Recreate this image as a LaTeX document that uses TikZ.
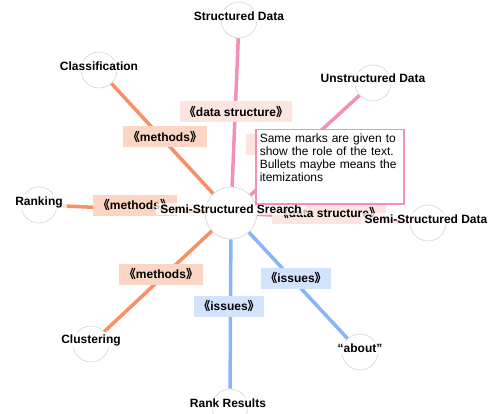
\documentclass[tikz,border=0pt]{standalone}
\usepackage{fontspec}
\setmainfont{Liberation Sans}
\newfontfamily\cjk{Noto Sans CJK SC}
\definecolor{linkpink}{RGB}{246,142,186}
\definecolor{linkorange}{RGB}{250,143,102}
\definecolor{linkblue}{RGB}{138,180,248}
\definecolor{tagpink}{RGB}{252,228,224}
\definecolor{tagorange}{RGB}{251,214,197}
\definecolor{tagblue}{RGB}{210,227,252}
\definecolor{notepink}{RGB}{244,143,183}
\definecolor{ringgray}{RGB}{212,212,212}
\newcommand{\obr}{{\cjk 《}}
\newcommand{\cbr}{{\cjk 》}}

\begin{document}
\begin{tikzpicture}[x=1pt, y=-1pt,
  every node/.style={font=\fontsize{12}{13}\selectfont},
  ring/.style={circle, draw=ringgray, line width=0.6pt, minimum size=36pt, inner sep=0pt},
  hubring/.style={ring, minimum size=52pt},
  title/.style={font=\fontsize{12}{13}\selectfont\bfseries, fill=white, fill opacity=0.72, text opacity=1, inner xsep=4pt, inner ysep=2pt},
  tag/.style={font=\fontsize{12}{13}\selectfont\bfseries, minimum height=21pt, inner sep=0pt},
  link/.style={line width=3.5pt}]
\useasboundingbox (0,0) rectangle (492,414);
% rings
\node[hubring] (hub) at (231,213) {};
\node[ring] (sd) at (239,20) {};
\node[ring] (ud) at (373,83) {};
\node[ring] (ssd) at (428,223) {};
\node[ring] (cls) at (99,70) {};
\node[ring] (rnk) at (39,205) {};
\node[ring] (clu) at (91,344) {};
\node[ring] (rr) at (230,407) {};
\node[ring] (ab) at (360,352) {};

% data structure links
\draw[link, linkpink] (hub) -- (sd);
\draw[link, linkpink] (hub) -- (ud);
\draw[link, linkpink] (hub) -- (ssd);
% method links
\draw[link, linkorange] (hub) -- (cls);
\draw[link, linkorange] (hub) -- (rnk);
\draw[link, linkorange] (hub) -- (clu);
% issue links
\draw[link, linkblue] (hub) -- (rr);
\draw[link, linkblue] (hub) -- (ab);

% stereotype tags
\node[tag, fill=tagpink, minimum width=112pt] (tsd) at (236,112) {\obr data structure\cbr};
\node[tag, fill=tagpink, minimum width=112pt] (tud) at (302,145) {\obr data structure\cbr};
\node[tag, fill=tagpink, minimum width=114pt] (tssd) at (329,213) {\obr data structure\cbr};
\node[tag, fill=tagorange, minimum width=84pt] (tcls) at (165,137) {\obr methods\cbr};
\node[tag, fill=tagorange, minimum width=84pt] (trnk) at (135,205) {\obr methods\cbr};
\node[tag, fill=tagorange, minimum width=84pt] (tclu) at (161,274) {\obr methods\cbr};
\node[tag, fill=tagblue, minimum width=70pt] (trr) at (229,306) {\obr issues\cbr};
\node[tag, fill=tagblue, minimum width=70pt] (tab) at (296,278) {\obr issues\cbr};

% node titles
\node[title] (lhub) at (231,209) {Semi-Structured Srearch};
\node[title] (lsd) at (239,16) {Structured Data};
\node[title] (lud) at (373,78) {Unstructured Data};
\node[title] (lssd) at (426,219) {Semi-Structured Data};
\node[title] (lcls) at (99,66) {Classification};
\node[title] (lrnk) at (39,202) {Ranking};
\node[title] (lclu) at (91,340) {Clustering};
\node[title] (lrr) at (228,403) {Rank Results};
\node[title] (lab) at (360,348) {``about''};

% comment box
\node[draw=notepink, line width=1.5pt, fill=white, anchor=north west, text width=140pt,
  align=left, inner sep=4pt, text height=9pt, text depth=57pt] (note) at (255,129)
  {Same marks are given to\\show the role of the text.\\Bullets maybe means the\\itemizations};
\end{tikzpicture}
\end{document}
